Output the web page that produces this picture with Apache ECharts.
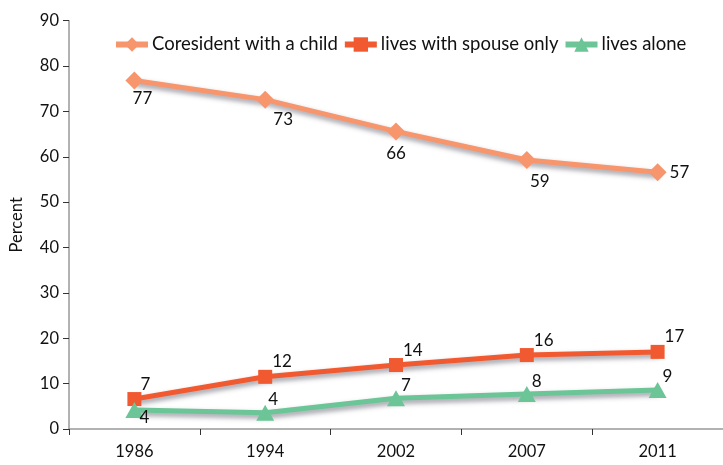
<!DOCTYPE html>
<html><head><meta charset="utf-8">
<script src="https://cdn.jsdelivr.net/npm/echarts@6/dist/echarts.min.js"></script>
<style>html,body{margin:0;padding:0;background:#fff}#c{width:723px;height:465px}</style>
</head><body><div id="c"></div>
<script>
const years = ['1986','1994','2002','2007','2011'];
const coresident = [76.8, 72.6, 65.6, 59.3, 56.6];
const spouseOnly = [6.6, 11.5, 14.1, 16.3, 17.0];
const alone = [4.2, 3.6, 6.8, 7.7, 8.6];
const yTicks = [0,10,20,30,40,50,60,70,80,90];

const FONT = 'Lato';
const shadow = {shadowColor:'rgba(50,50,70,0.5)', shadowBlur:5, shadowOffsetX:1, shadowOffsetY:3};
const fmt = p => Math.round(p.value);
const baseLbl = {show:true, formatter:fmt, color:'#111', fontSize:17, fontFamily:FONT};

const coreOffsets = [[8,-5],[18,-3],[0,0],[13,-1]];
const coreData = coresident.map((v,i)=> i===4
  ? {value:v, label:{position:'right', offset:[-2,0]}}
  : {value:v, label:{position:'bottom', offset:coreOffsets[i]}});
const spouseData = spouseOnly.map((v,i)=> ({value:v, label:{position:'right', offset:[i===0?-6:-5,-15]}}));
const aloneData = alone.map((v,i)=> i===0
  ? {value:v, label:{position:'right', offset:[-9,8]}}
  : {value:v, label:{position:'right', offset:[i===1?-11:-9,-13]}});

const chart = echarts.init(document.getElementById('c'));
chart.setOption({
  animation:false,
  textStyle:{fontFamily:FONT},
  legend:{
    top:35, left:113, padding:0, itemGap:4, itemWidth:32, itemHeight:18,
    lineStyle:{width:6},
    textStyle:{fontSize:18.5, color:'#111', fontFamily:FONT, padding:[0,0,0,-1]},
    data:['Coresident with a child','lives with spouse only','lives alone']
  },
  grid:{left:67, right:-4, top:20.7, bottom:36},
  xAxis:{
    type:'category', data:years, boundaryGap:true,
    axisLine:{lineStyle:{color:'#999', width:1.5}},
    axisTick:{show:true, inside:false, length:6, lineStyle:{color:'#333'}},
    axisLabel:{fontSize:16.5, color:'#111', margin:14, fontFamily:FONT}
  },
  yAxis:{
    type:'value', min:yTicks[0], max:yTicks[yTicks.length-1], interval:10,
    name:'Percent', nameLocation:'middle', nameGap:44, nameRotate:90,
    nameTextStyle:{fontSize:16.5, color:'#111', fontFamily:FONT},
    splitLine:{show:false},
    axisLine:{show:true, lineStyle:{color:'#999', width:1.5}},
    axisTick:{show:true, length:6, lineStyle:{color:'#333'}},
    axisLabel:{fontSize:16.5, color:'#111', margin:10, fontFamily:FONT}
  },
  series:[
    {name:'Coresident with a child', type:'line', data:coreData,
     symbol:'diamond', symbolSize:18, color:'#F7956D',
     lineStyle:Object.assign({width:5, color:'#F7956D'}, shadow),
     itemStyle:{color:'#F7956D'},
     label:baseLbl, z:3},
    {name:'lives with spouse only', type:'line', data:spouseData,
     symbol:'rect', symbolSize:14, color:'#F15A30',
     lineStyle:Object.assign({width:5, color:'#F15A30'}, shadow),
     itemStyle:{color:'#F15A30'},
     label:baseLbl, z:3},
    {name:'lives alone', type:'line', data:aloneData,
     symbol:'triangle', symbolSize:[18,16], color:'#6CC597',
     lineStyle:Object.assign({width:5, color:'#6CC597'}, shadow),
     itemStyle:{color:'#6CC597'},
     label:baseLbl, z:3}
  ]
});
</script></body></html>
